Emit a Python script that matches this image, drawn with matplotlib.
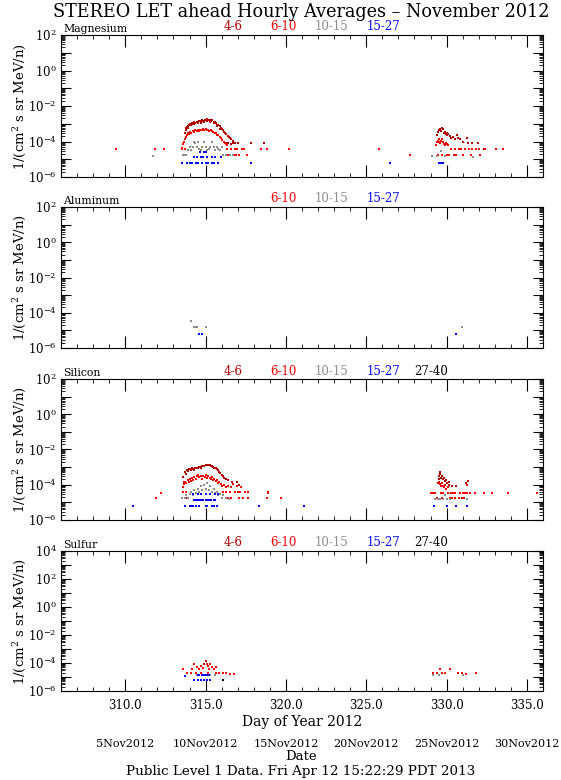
import matplotlib
matplotlib.use('Agg')
import matplotlib.pyplot as plt
from matplotlib.ticker import FixedLocator, MultipleLocator, FuncFormatter, NullFormatter, LogLocator
import numpy as np

plt.rcParams['font.family'] = 'DejaVu Serif'
plt.rcParams['mathtext.fontset'] = 'dejavuserif'

# ---------------- Magnesium ----------------
mg_46_day = [313.70, 313.75, 313.80, 313.86, 313.92, 313.99, 314.05, 314.13, 314.20, 314.28,
             314.36, 314.44, 314.53, 314.61, 314.70, 314.78, 314.86, 314.94, 315.02, 315.10,
             315.18, 315.26, 315.34, 315.42, 315.50, 315.58, 315.65, 315.72, 315.79, 315.87,
             315.94, 316.01, 316.08, 316.15, 316.22, 316.30, 316.37, 316.45, 316.52, 316.60,
             313.90, 314.10, 314.30, 314.50, 314.70, 314.90, 315.10, 315.30, 315.50, 315.70, 315.90,
             316.25, 316.40, 316.55, 316.68, 316.70, 316.85, 317.00, 317.80, 318.65,
             329.38, 329.48, 329.55, 329.59, 329.65, 329.69, 329.75, 329.79, 329.85, 329.90,
             329.95, 330.00, 330.05, 330.10, 330.21, 330.30, 330.42, 330.50, 330.62, 330.73,
             330.83, 331.00, 331.25, 331.35, 331.60, 331.97, 332.30]
mg_46_flux = [3.2e-4, 4.5e-4, 5.5e-4, 6.8e-4, 7.5e-4, 8.5e-4, 9.6e-4, 1.05e-3, 1.0e-3, 1.2e-3,
              1.15e-3, 1.3e-3, 1.25e-3, 1.45e-3, 1.4e-3, 1.55e-3, 1.5e-3, 1.7e-3, 1.6e-3, 1.75e-3,
              1.6e-3, 1.7e-3, 1.5e-3, 1.55e-3, 1.3e-3, 1.2e-3, 1.05e-3, 9.0e-4, 8.2e-4, 7.0e-4,
              6.0e-4, 5.0e-4, 4.4e-4, 3.6e-4, 3.1e-4, 2.5e-4, 2.1e-4, 1.7e-4, 1.5e-4, 1.3e-4,
              6.0e-4, 8.0e-4, 9.5e-4, 1.05e-3, 1.15e-3, 1.3e-3, 1.35e-3, 1.25e-3, 1.05e-3, 7.5e-4, 5.2e-4,
              8e-5, 8e-5, 7.5e-5, 1.1e-4, 8e-5, 8e-5, 8e-5, 8e-5, 8e-5,
              2.3e-4, 3.6e-4, 4.2e-4, 4.9e-4, 3.8e-4, 6.0e-4, 5.0e-4, 4.9e-4, 3.0e-4, 3.6e-4,
              2.6e-4, 2.9e-4, 2.2e-4, 2.5e-4, 2.0e-4, 1.6e-4, 1.9e-4, 1.3e-4, 2.3e-4, 1.5e-4,
              1.3e-4, 1.0e-4, 1.5e-4, 8e-5, 8e-5, 8e-5, 3.6e-5]

mg_610_day = ([309.45, 311.85, 312.40, 318.45, 318.80, 320.20, 325.80, 327.75, 333.10, 333.50]
              + [313.55, 313.60, 313.65, 313.70, 313.76, 313.83, 313.90, 313.97, 314.05, 314.12,
                 314.20, 314.28, 314.36, 314.44, 314.52, 314.60, 314.68, 314.76, 314.84, 314.92,
                 315.00, 315.08, 315.16, 315.24, 315.32, 315.40, 315.48, 315.56, 315.64, 315.72,
                 315.80, 315.88, 315.96, 316.04, 316.12, 316.20, 316.28, 316.36]
              + [313.55, 313.70, 313.62, 313.80]
              + [316.35, 316.55, 316.80, 316.95, 317.25, 317.40]
              + [316.40, 316.75, 316.90, 317.05, 317.60]
              + [329.35, 329.40, 329.45, 329.50, 329.55, 329.60, 329.65, 329.70, 329.75, 329.80,
                 329.85, 329.90, 329.95, 330.00, 330.10]
              + [330.30, 330.50, 330.75, 330.90, 331.15, 331.40, 331.55, 331.85, 332.00, 332.40]
              + [329.45, 329.70, 330.00, 330.15, 330.45, 330.60, 331.00, 331.50, 332.05])
mg_610_flux = ([3.6e-5] * 7 + [1.8e-5, 3.6e-5, 3.6e-5]
               + [4.5e-5, 7e-5, 1.0e-4, 1.4e-4, 1.9e-4, 2.3e-4, 2.9e-4, 2.6e-4, 3.3e-4, 3.0e-4,
                  3.9e-4, 3.5e-4, 4.2e-4, 3.8e-4, 4.5e-4, 4.0e-4, 4.6e-4, 4.2e-4, 4.9e-4, 4.4e-4,
                  4.9e-4, 4.3e-4, 4.6e-4, 4.0e-4, 4.4e-4, 3.7e-4, 3.6e-4, 3.1e-4, 2.9e-4, 2.4e-4,
                  2.2e-4, 1.8e-4, 1.5e-4, 1.25e-4, 1.0e-4, 8.5e-5, 7e-5, 6e-5]
               + [3.6e-5, 3.6e-5, 1.8e-5, 1.8e-5]
               + [3.6e-5] * 6
               + [1.7e-5] * 5
               + [6e-5, 9e-5, 1.1e-4, 1.3e-4, 1.0e-4, 8e-5, 1.1e-4, 1.3e-4, 1.0e-4, 9e-5,
                  7e-5, 6e-5, 8e-5, 7e-5, 6e-5]
               + [3.6e-5] * 10
               + [1.8e-5] * 9)

mg_1015_day = [311.75, 313.60, 313.70, 313.80, 313.90, 314.00, 314.10, 314.20, 314.30, 314.35,
               314.45, 314.55, 314.60, 314.70, 314.80, 314.90, 315.00, 315.10, 315.20, 315.30,
               315.40, 315.50, 315.60, 315.70, 315.80, 315.90, 316.00, 316.10, 316.30, 316.50,
               316.70, 329.10, 329.40, 329.65, 329.90, 331.65]
mg_1015_flux = [1.5e-5, 1.7e-5, 1.7e-5, 1.7e-5, 3.5e-5, 5e-5, 3.5e-5, 5e-5, 1e-4, 8e-5,
                5e-5, 1e-4, 4e-5, 3.5e-5, 5e-5, 9e-5, 5e-5, 3.5e-5, 4e-5, 5e-5,
                1e-4, 5e-5, 3.5e-5, 5e-5, 4e-5, 3.5e-5, 5e-5, 1.7e-5, 1.7e-5, 1.7e-5,
                1.7e-5, 1.5e-5, 1.5e-5, 3e-5, 1.5e-5, 1.4e-5]

mg_1527_day = ([313.55, 313.85, 314.05, 314.15, 314.40, 314.55, 314.80, 315.05, 315.15, 315.40,
                315.55, 315.75]
               + [314.25, 314.45, 314.70, 314.85, 315.10, 315.40, 315.60, 315.95]
               + [314.65, 314.90, 315.05]
               + [317.80, 326.50, 329.50, 329.65, 329.80])
mg_1527_flux = [6.5e-6] * 12 + [1.3e-5] * 8 + [2.5e-5] * 3 + [6.5e-6] * 5

# ---------------- Aluminum ----------------
al_1015_day = [314.10, 314.25, 314.35, 314.45, 315.05, 330.95]
al_1015_flux = [3.3e-5, 1.6e-5, 1.6e-5, 1.6e-5, 1.6e-5, 1.6e-5]
al_1527_day = [314.60, 314.80, 330.60]
al_1527_flux = [6.3e-6, 6.3e-6, 6.3e-6]

# ---------------- Silicon ----------------
si_46_day = [313.60, 313.65, 313.72, 313.77, 313.82, 313.90, 313.96, 314.03, 314.10, 314.17,
             314.24, 314.30, 314.37, 314.44, 314.50, 314.58, 314.65, 314.72, 314.79, 314.86,
             314.93, 315.00, 315.07, 315.14, 315.20, 315.27, 315.34, 315.41, 315.48, 315.55,
             315.62, 315.69, 315.76, 315.82, 315.90, 316.00, 316.07, 316.14, 316.25, 316.41,
             316.62, 316.97, 317.10, 318.90,
             329.45, 329.50, 329.55, 329.57, 329.62, 329.67, 329.72, 329.78, 329.84, 329.90,
             329.96, 330.05, 330.12, 330.18, 330.33, 330.60, 331.18, 331.36]
si_46_flux = [2.8e-4, 1.5e-4, 5.4e-4, 4.2e-4, 6.8e-4, 6.0e-4, 7.5e-4, 7.7e-4, 6.5e-4, 8.5e-4,
              8.2e-4, 7.2e-4, 9.2e-4, 9.5e-4, 8.5e-4, 1.0e-3, 1.05e-3, 9.3e-4, 1.15e-3, 1.2e-3,
              1.1e-3, 1.3e-3, 1.4e-3, 1.25e-3, 1.35e-3, 1.3e-3, 1.15e-3, 1.2e-3, 1.05e-3, 9.0e-4,
              8.5e-4, 7.7e-4, 6.5e-4, 5.4e-4, 4.6e-4, 3.8e-4, 3.0e-4, 2.5e-4, 2.2e-4, 1.8e-4,
              1.5e-4, 1.5e-4, 9.5e-5, 3.5e-5,
              1.2e-4, 3.0e-4, 2.2e-4, 5.4e-4, 4.0e-4, 2.5e-4, 3.2e-4, 2.0e-4, 2.4e-4, 1.6e-4,
              1.9e-4, 1.3e-4, 1.5e-4, 1.0e-4, 9e-5, 9e-5, 1.2e-4, 1.6e-4]

si_610_day = ([311.90, 312.20, 319.67, 332.30, 332.80, 333.80, 335.60]
              + [313.60, 313.65, 313.72, 313.80, 313.88, 313.95, 314.02, 314.10, 314.13, 314.20,
                 314.30, 314.38, 314.45, 314.55, 314.62, 314.70, 314.78, 314.85, 314.95, 315.02,
                 315.10, 315.18, 315.25, 315.32, 315.40, 315.48, 315.55, 315.62, 315.70, 315.78,
                 315.85, 315.95, 316.05, 316.15, 316.25, 316.40, 316.60, 316.70, 316.96, 317.20]
              + [313.60, 313.75, 313.70, 313.85]
              + [316.10, 316.30, 316.50, 316.80, 317.00, 317.15, 317.45, 317.65, 318.90]
              + [316.40, 316.60, 317.10, 317.30, 317.65, 318.80]
              + [329.00, 329.15, 329.30, 329.65, 329.80, 330.10, 330.25, 330.40, 330.55, 330.85,
                 331.00, 331.15, 331.30, 331.45, 331.75]
              + [329.40, 329.70, 330.20, 330.35, 330.50, 330.80, 330.95, 331.10]
              + [329.55, 329.60, 329.65, 329.70, 329.75, 329.85, 329.90, 329.95, 330.10, 331.30])
si_610_flux = ([1.8e-5, 3.5e-5, 1.8e-5, 3.5e-5, 3.5e-5, 3.5e-5, 3.5e-5]
               + [7.6e-5, 1.1e-4, 1.5e-4, 1.2e-4, 1.8e-4, 1.5e-4, 2.0e-4, 1.6e-4, 2.3e-4, 1.9e-4,
                  2.6e-4, 2.1e-4, 3.0e-4, 3.5e-4, 2.6e-4, 3.2e-4, 2.2e-4, 3.3e-4, 2.8e-4, 3.5e-4,
                  2.4e-4, 3.0e-4, 2.5e-4, 2.2e-4, 2.7e-4, 1.9e-4, 2.2e-4, 1.6e-4, 1.8e-4, 1.3e-4,
                  1.5e-4, 1.1e-4, 9e-5, 1.0e-4, 7e-5, 9e-5, 7e-5, 1.1e-4, 9e-5, 7e-5]
               + [4e-5, 4e-5, 1.8e-5, 1.8e-5]
               + [4e-5] * 9
               + [1.8e-5] * 6
               + [3.5e-5] * 15
               + [1.8e-5] * 8
               + [1.5e-4, 1.1e-4, 8e-5, 1.3e-4, 9e-5, 7e-5, 1.0e-4, 6e-5, 7e-5, 1.0e-4])

si_1015_day = [313.55, 313.70, 313.80, 313.90, 314.00, 314.10, 314.20, 314.30, 314.40, 314.50,
               314.60, 314.70, 314.80, 314.90, 315.00, 315.10, 315.20, 315.30, 315.40, 315.50,
               315.60, 315.70, 315.80, 315.90, 316.00, 316.10, 316.30, 316.45,
               329.30, 329.45, 329.60, 329.75, 329.90, 330.05, 330.20, 331.30]
si_1015_flux = [1.8e-5, 1.8e-5, 2.5e-5, 1.8e-5, 3e-5, 4e-5, 2.5e-5, 5e-5, 3.5e-5, 6e-5,
                4e-5, 8e-5, 5e-5, 1e-4, 6e-5, 1.2e-4, 5e-5, 8e-5, 4e-5, 6e-5,
                3.5e-5, 4e-5, 2.5e-5, 3e-5, 1.8e-5, 2.5e-5, 1.8e-5, 1.5e-5,
                1.6e-5, 1.6e-5, 1.6e-5, 1.6e-5, 2.5e-5, 1.6e-5, 1.6e-5, 1.6e-5]

si_1527_day = ([310.47, 313.70, 314.00, 314.10, 314.20, 314.40, 314.60, 315.00, 315.10, 315.40,
                315.50, 315.70]
               + [314.30, 314.40, 314.55, 314.65, 314.75, 314.85, 315.00, 315.10, 315.20, 315.35,
                  315.50, 315.60]
               + [314.20, 314.50, 314.70, 315.00, 315.30, 315.60, 315.80]
               + [318.30, 321.10, 329.20, 330.00, 330.60, 331.30])
si_1527_flux = [6e-6] * 12 + [1.45e-5] * 12 + [3e-5] * 7 + [6e-6] * 6

# ---------------- Sulfur ----------------
su_46_day = [314.91, 315.00]
su_46_flux = [9e-5, 1.4e-4]

su_610_day = [313.62, 313.84, 314.07, 314.29, 314.40, 314.47, 314.62, 314.73, 314.84, 315.07,
              315.13, 315.22, 315.40, 315.51, 315.62, 315.84, 316.07, 316.29, 316.51, 316.78,
              314.73, 315.18, 315.62, 314.18, 315.29,
              329.18, 329.40, 329.58, 329.73, 329.89, 330.24, 330.73, 330.96, 331.18, 331.80]
su_610_flux = [4e-5, 2e-5, 2e-5, 8e-5, 2e-5, 5.5e-5, 4e-5, 6e-5, 4.2e-5, 9e-5,
               6e-5, 4e-5, 4.9e-5, 4e-5, 5.5e-5, 2e-5, 1.8e-5, 1.8e-5, 1.7e-5, 1.6e-5,
               1.8e-5, 1.8e-5, 2e-5, 4e-5, 8.5e-5,
               1.8e-5, 2e-5, 4e-5, 2e-5, 2e-5, 4e-5, 1.8e-5, 1.8e-5, 1.6e-5, 1.8e-5]

su_1015_day = [314.45, 314.80, 315.30, 315.60, 329.18, 329.50, 331.05]
su_1015_flux = [1.4e-5] * 7

su_1527_day = [313.69, 314.30, 314.50, 314.70, 314.90, 315.10, 315.30,
               314.50, 314.60, 314.75, 314.90, 315.00, 315.10, 315.20]
su_1527_flux = [1.2e-5] + [6.3e-6] * 6 + [1.4e-5] * 7

su_2740_day = [316.07]
su_2740_flux = [6.3e-6]

# energy ranges (MeV/n) and colours
ranges = ['4-6', '6-10', '10-15', '15-27', '27-40']
range_colors = ['#b40000', '#ff0000', '#8c8c8c', '#0000ff', '#000000']
range_x = [233, 283, 332, 383, 431]

panels = [
    ('Magnesium', 1e-6, 1e2, [0, 1, 2, 3],
     [(0, mg_46_day, mg_46_flux), (1, mg_610_day, mg_610_flux),
      (2, mg_1015_day, mg_1015_flux), (3, mg_1527_day, mg_1527_flux)]),
    ('Aluminum', 1e-6, 1e2, [1, 2, 3],
     [(2, al_1015_day, al_1015_flux), (3, al_1527_day, al_1527_flux)]),
    ('Silicon', 1e-6, 1e2, [0, 1, 2, 3, 4],
     [(0, si_46_day, si_46_flux), (1, si_610_day, si_610_flux),
      (2, si_1015_day, si_1015_flux), (3, si_1527_day, si_1527_flux)]),
    ('Sulfur', 1e-6, 1e4, [0, 1, 2, 3, 4],
     [(0, su_46_day, su_46_flux), (1, su_610_day, su_610_flux),
      (2, su_1015_day, su_1015_flux), (3, su_1527_day, su_1527_flux),
      (4, su_2740_day, su_2740_flux)]),
]

W, H = 561, 780
fig = plt.figure(figsize=(W / 100, H / 100), dpi=100)
left, right = 61, 543
tops = [35, 207, 379, 551]
bots = [177, 348, 520, 691]


def logfmt(v, pos):
    e = int(round(np.log10(v)))
    if e % 2:
        return ''
    return r'$10^{%d}$' % e


for i, (name, ylo, yhi, labs, series) in enumerate(panels):
    ax = fig.add_axes([left / W, 1 - bots[i] / H, (right - left) / W, (bots[i] - tops[i]) / H])
    for ci, d, f in series:
        ax.plot(d, f, 's', color=range_colors[ci], ms=2.0, mew=0, ls='none')
    ax.set_yscale('log')
    ax.set_xlim(306, 336)
    ax.set_ylim(ylo, yhi)
    exps = np.arange(int(np.log10(ylo)), int(np.log10(yhi)) + 1)
    ax.yaxis.set_major_locator(FixedLocator(10.0 ** exps))
    ax.yaxis.set_major_formatter(FuncFormatter(logfmt))
    ax.yaxis.set_minor_locator(LogLocator(base=10, subs=np.arange(2, 10), numticks=30))
    ax.yaxis.set_minor_formatter(NullFormatter())
    ax.xaxis.set_major_locator(MultipleLocator(5))
    ax.xaxis.set_minor_locator(MultipleLocator(1))
    ax.xaxis.set_major_formatter(FuncFormatter(lambda v, p: '%.1f' % v))
    ax.tick_params(axis='x', which='major', direction='in', length=8.5, width=0.8,
                   top=True, bottom=True, labelsize=8.5, pad=6)
    ax.tick_params(axis='x', which='minor', direction='in', length=3, width=0.6,
                   top=True, bottom=True)
    ax.tick_params(axis='y', which='major', direction='in', length=7, width=0.8,
                   left=True, right=True, labelsize=8.5, pad=3)
    ax.tick_params(axis='y', which='minor', direction='in', length=3, width=0.6,
                   left=True, right=True)
    if i < 3:
        ax.tick_params(axis='x', labelbottom=False)
    for s in ax.spines.values():
        s.set_linewidth(0.8)
    ax.set_ylabel('1/(cm$^2$ s sr MeV/n)', fontsize=9.5)
    ax.yaxis.set_label_coords((28 - left) / (right - left), 0.5)
    ytxt = 1 - (tops[i] - 1.5) / H
    fig.text(63 / W, ytxt, name, fontsize=7.8, va='bottom', ha='left')
    for li in labs:
        fig.text(range_x[li] / W, ytxt, ranges[li], fontsize=8.5, va='bottom', ha='center',
                 color=range_colors[li])
    if i == 3:
        ax.set_xlabel('Day of Year 2012', fontsize=10, labelpad=2)

# title
fig.text(301 / W, 1 - 12 / H, 'STEREO LET ahead Hourly Averages \u2013 November 2012',
         fontsize=12.7, ha='center', va='center')

# date axis labels below
date_doy = [310, 315, 320, 325, 330, 335]
date_labels = ['5Nov2012', '10Nov2012', '15Nov2012', '20Nov2012', '25Nov2012', '30Nov2012']
for d, lab in zip(date_doy, date_labels):
    xp = left + (d - 306) / 30 * (right - left)
    fig.text(xp / W, 1 - 744 / H, lab, fontsize=8, ha='center', va='center')
fig.text(301 / W, 1 - 757 / H, 'Date', fontsize=9.5, ha='center', va='center')
fig.text(301 / W, 1 - 772 / H, 'Public Level 1 Data. Fri Apr 12 15:22:29 PDT 2013',
         fontsize=9.7, ha='center', va='center')

fig.savefig('out.png', dpi=100)
